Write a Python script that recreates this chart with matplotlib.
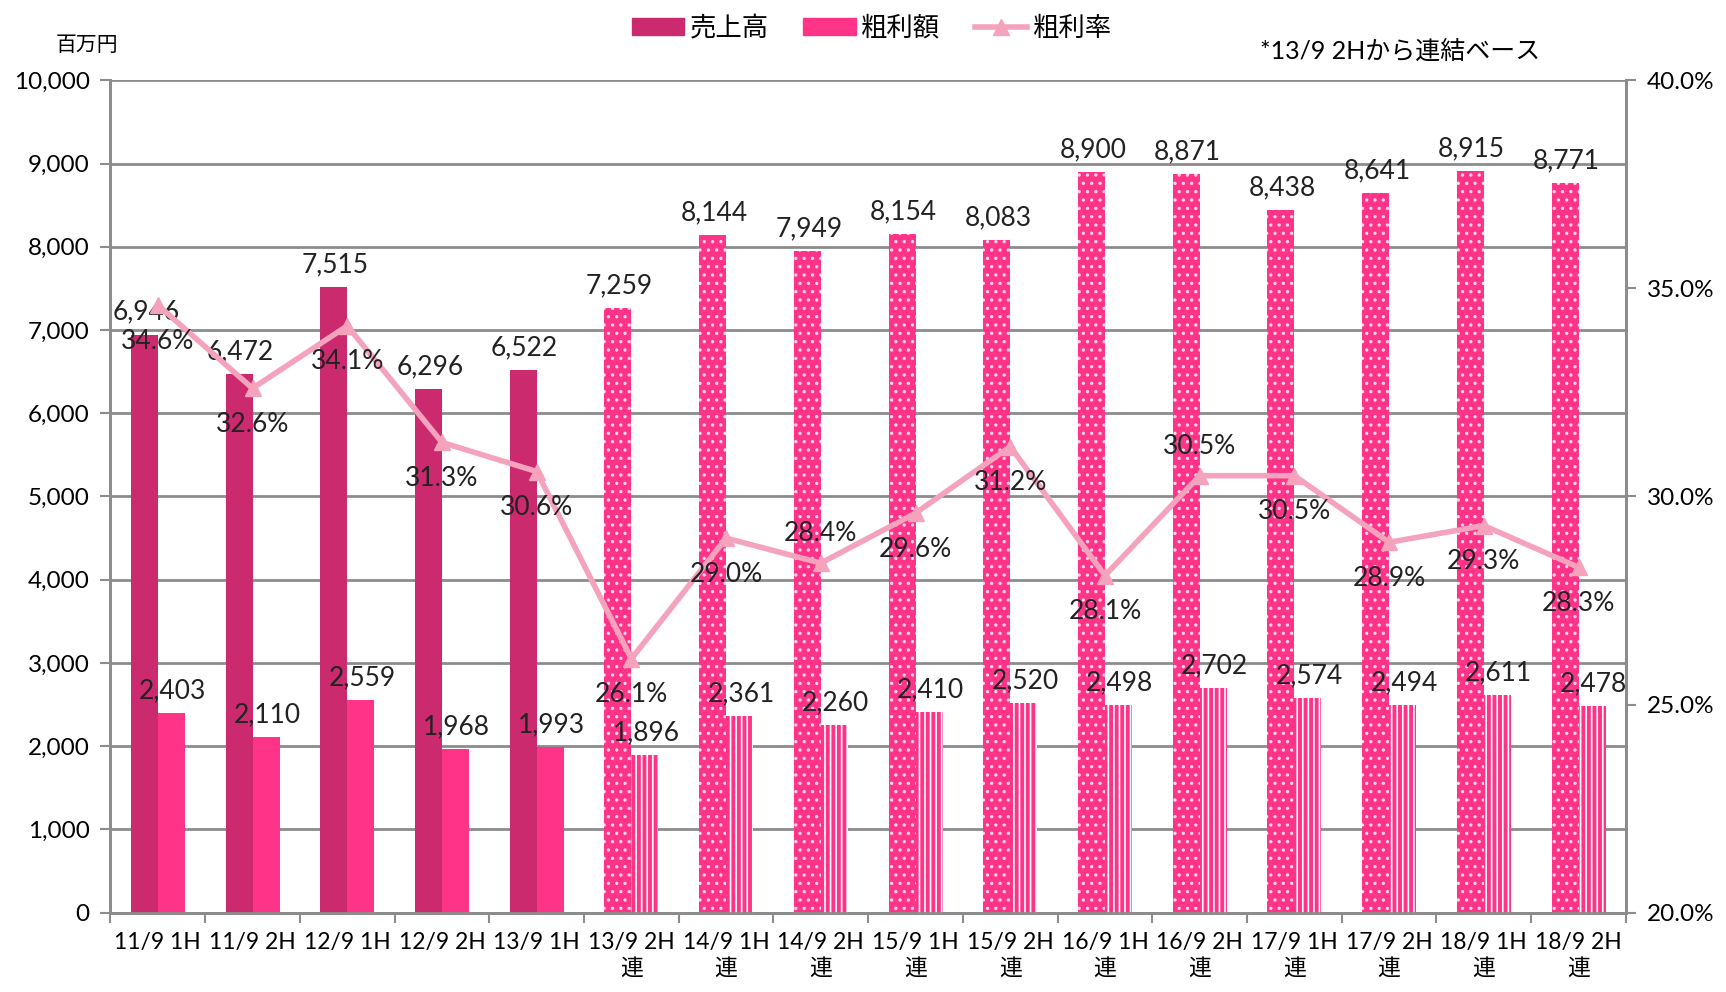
import matplotlib
matplotlib.use("Agg")
import matplotlib.pyplot as plt
import numpy as np
from matplotlib.patches import Patch
from matplotlib.lines import Line2D

plt.rcParams['font.family'] = ['Lato', 'Noto Sans CJK JP', 'DejaVu Sans']
plt.rcParams['hatch.linewidth'] = 1.2

# data
periods = ["11/9 1H", "11/9 2H", "12/9 1H", "12/9 2H", "13/9 1H", "13/9 2H",
           "14/9 1H", "14/9 2H", "15/9 1H", "15/9 2H", "16/9 1H", "16/9 2H",
           "17/9 1H", "17/9 2H", "18/9 1H", "18/9 2H"]
consolidated = [False] * 5 + [True] * 11
sales = [6946, 6472, 7515, 6296, 6522, 7259, 8144, 7949, 8154, 8083,
         8900, 8871, 8438, 8641, 8915, 8771]
gross_profit = [2403, 2110, 2559, 1968, 1993, 1896, 2361, 2260, 2410, 2520,
                2498, 2702, 2574, 2494, 2611, 2478]
margin = [34.6, 32.6, 34.1, 31.3, 30.6, 26.1, 29.0, 28.4, 29.6, 31.2,
          28.1, 30.5, 30.5, 28.9, 29.3, 28.3]
margin_label_above = [False, False, False, False, False, False, False, True,
                      False, False, False, True, False, False, False, False]

c_sales = '#CC2A6E'
c_profit = '#FF3388'
c_line = '#F5A3BD'
c_grid = '#8C8C8C'
c_text = '#222222'

fig = plt.figure(figsize=(17.26, 9.92), dpi=100)
ax = fig.add_axes([0.064, 0.080, 0.878, 0.839])
ax2 = ax.twinx()

x = np.arange(len(periods))
w = 0.285
for i in x:
    if consolidated[i]:
        ax.bar(i - w / 2, sales[i], w, color=c_profit, hatch='..', edgecolor='#FFD6E6', linewidth=0, zorder=3)
        ax.bar(i + w / 2, gross_profit[i], w, color=c_profit, hatch='|||', edgecolor='white', linewidth=0, zorder=3)
    else:
        ax.bar(i - w / 2, sales[i], w, color=c_sales, linewidth=0, zorder=3)
        ax.bar(i + w / 2, gross_profit[i], w, color=c_profit, linewidth=0, zorder=3)

fs = 19
for i in x:
    ax.annotate(f"{sales[i]:,}", (i - w / 2, sales[i]), xytext=(1, 7), textcoords='offset points',
                ha='center', va='bottom', fontsize=fs, color=c_text, zorder=6)
    ax.annotate(f"{gross_profit[i]:,}", (i + w / 2, gross_profit[i]), xytext=(1, 7), textcoords='offset points',
                ha='center', va='bottom', fontsize=fs, color=c_text, zorder=6)

ax.set_xlim(-0.5, len(periods) - 0.5)
ax.set_ylim(0, 10000)
ax.set_yticks(np.arange(0, 10001, 1000))
ax.set_yticklabels([f"{v:,}" for v in range(0, 10001, 1000)], fontsize=17.5)
ax.yaxis.grid(True, color=c_grid, linewidth=2, zorder=0)
ax.set_axisbelow(True)

ax.set_xticks(x)
ax.set_xticklabels([p + ("\n連" if c else "") for p, c in zip(periods, consolidated)],
                   fontsize=16.5, linespacing=1.25, va='top')
ax.set_xticks(np.arange(-0.5, len(periods), 1), minor=True)
ax.tick_params(axis='x', which='major', length=0, pad=14)
ax.tick_params(axis='x', which='minor', length=7, width=1.5, color=c_grid)
ax.tick_params(axis='y', length=7, width=1.5, color=c_grid, pad=8)

for s in ['left', 'right', 'bottom']:
    for a in (ax, ax2):
        a.spines[s].set_color(c_grid)
        a.spines[s].set_linewidth(2)
ax.spines['top'].set_visible(False)
ax2.spines['top'].set_visible(False)

ax2.plot(x, margin, color=c_line, linewidth=4, marker='^', markersize=12, zorder=5)
ax2.set_ylim(20, 40)
ax2.set_yticks(np.arange(20, 40.1, 5))
ax2.set_yticklabels([f"{v:.1f}%" for v in np.arange(20, 40.1, 5)], fontsize=17.5)
ax2.tick_params(axis='y', length=7, width=1.5, color=c_grid, pad=8)
for i in x:
    above = margin_label_above[i]
    ax2.annotate(f"{margin[i]:.1f}%", (x[i], margin[i]), xytext=(0, 12 if above else -17),
                 textcoords='offset points', ha='center', va='bottom' if above else 'top',
                 fontsize=fs, color=c_text, zorder=7)
ax2.set_zorder(ax.get_zorder() + 1)
ax2.patch.set_visible(False)

handles = [Patch(color=c_sales, label='売上高'), Patch(color=c_profit, label='粗利額'),
           Line2D([], [], color=c_line, linewidth=4, marker='^', markersize=12, label='粗利率')]
fig.legend(handles=handles, loc='upper center', bbox_to_anchor=(0.505, 1.008), ncol=3, frameon=False,
           fontsize=19, handlelength=2.0, handleheight=0.6, columnspacing=1.3, handletextpad=0.2)

fig.text(0.032, 0.955, "百万円", fontsize=15, ha='left', va='center')
fig.text(0.73, 0.948, "*13/9 2Hから連結ベース", fontsize=18, ha='left', va='center')

fig.savefig("out.png", dpi=100)
